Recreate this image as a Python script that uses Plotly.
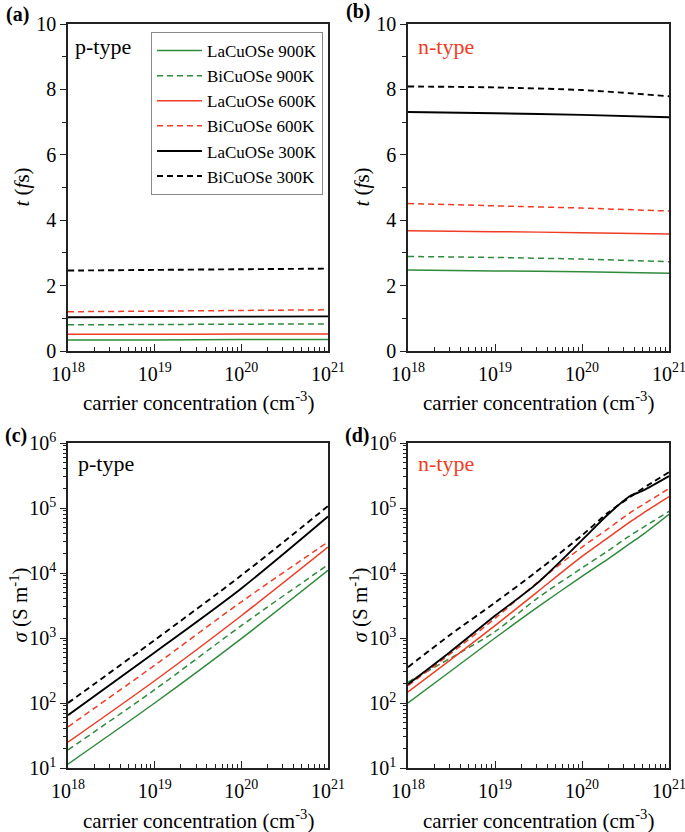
import plotly.graph_objects as go

W, H = 685, 832
FONT = "Liberation Serif, Times New Roman, serif"

# carrier concentration (cm^-3)
conc = [1e18, 1e19, 1e20, 1e21]
conc_d = [1e18, 3e18, 1e19, 3e19, 1e20, 2e20, 3.5e20, 5e20, 1e21]

# (a) p-type relaxation time (fs)
tau_p_la900 = [0.34, 0.34, 0.35, 0.35]
tau_p_bi900 = [0.80, 0.81, 0.82, 0.83]
tau_p_la600 = [0.51, 0.51, 0.52, 0.52]
tau_p_bi600 = [1.20, 1.22, 1.24, 1.26]
tau_p_la300 = [1.03, 1.04, 1.05, 1.06]
tau_p_bi300 = [2.46, 2.48, 2.50, 2.52]

# (b) n-type relaxation time (fs)
tau_n_la900 = [2.48, 2.45, 2.42, 2.38]
tau_n_bi900 = [2.89, 2.86, 2.81, 2.73]
tau_n_la600 = [3.68, 3.65, 3.62, 3.58]
tau_n_bi600 = [4.51, 4.44, 4.37, 4.28]
tau_n_la300 = [7.31, 7.27, 7.22, 7.15]
tau_n_bi300 = [8.09, 8.06, 7.98, 7.79]

# (c) p-type conductivity (S/m)
sig_p_la900 = [11.5, 100, 980, 1.1e4]
sig_p_bi900 = [19, 160, 1550, 1.34e4]
sig_p_la600 = [25, 220, 2200, 2.5e4]
sig_p_bi600 = [43, 380, 3600, 3.0e4]
sig_p_la300 = [65, 600, 5800, 7.4e4]
sig_p_bi300 = [100, 930, 9200, 1.07e5]

# (d) n-type conductivity (S/m)
sig_n_la900 = [100, 300, 1000, 2900, 8900, 1.65e4, 2.8e4, 3.9e4, 8.0e4]
sig_n_bi900 = [210, 480, 1250, 4000, 1.2e4, 2.2e4, 3.7e4, 5.0e4, 8.9e4]
sig_n_la600 = [148, 450, 1550, 5000, 1.8e4, 3.5e4, 6.0e4, 8.3e4, 1.5e5]
sig_n_bi600 = [185, 560, 2000, 7000, 2.5e4, 4.8e4, 8.3e4, 1.12e5, 2.0e5]
sig_n_la300 = [195, 600, 2200, 6800, 3.2e4, 8.0e4, 1.5e5, 1.85e5, 3.1e5]
sig_n_bi300 = [355, 1100, 3500, 1.05e4, 3.8e4, 8.5e4, 1.45e5, 2.0e5, 3.55e5]

names = ["LaCuOSe 900K", "BiCuOSe 900K", "LaCuOSe 600K",
         "BiCuOSe 600K", "LaCuOSe 300K", "BiCuOSe 300K"]
GREEN, RED, BLACK = "#2e8b3c", "#f03c24", "#000000"
colors = [GREEN, GREEN, RED, RED, BLACK, BLACK]
dashes = ["solid", "6px,4px"] * 3
widths = [1.5, 1.5, 1.5, 1.5, 1.9, 1.9]

panels = [
    ("x", "y", conc, [tau_p_la900, tau_p_bi900, tau_p_la600, tau_p_bi600, tau_p_la300, tau_p_bi300]),
    ("x2", "y2", conc, [tau_n_la900, tau_n_bi900, tau_n_la600, tau_n_bi600, tau_n_la300, tau_n_bi300]),
    ("x3", "y3", conc, [sig_p_la900, sig_p_bi900, sig_p_la600, sig_p_bi600, sig_p_la300, sig_p_bi300]),
    ("x4", "y4", conc_d, [sig_n_la900, sig_n_bi900, sig_n_la600, sig_n_bi600, sig_n_la300, sig_n_bi300]),
]

fig = go.Figure()
for p, (xa, ya, xs, series) in enumerate(panels):
    for i, ys in enumerate(series):
        fig.add_trace(go.Scatter(
            x=xs, y=ys, mode="lines", name=names[i], xaxis=xa, yaxis=ya,
            showlegend=(p == 0),
            line=dict(color=colors[i], dash=dashes[i], width=widths[i],
                      shape="spline", smoothing=0.8),
        ))


def px_x(v):
    return v / W


def px_y(v):
    return 1 - v / H


# plot areas in pixels (left, right, top, bottom)
boxes = [(68, 328, 24, 351), (408, 669, 24, 351), (68, 328, 443, 768), (408, 669, 443, 768)]

axis_common = dict(showline=True, linecolor="#222", linewidth=1.5, mirror=True,
                   showgrid=False, zeroline=False, tickcolor="#222", tickwidth=1.2,
                   automargin=False, ticklabeloverflow="allow",
                   tickfont=dict(family=FONT, size=20, color="black"))

dec_x = [1e18, 1e19, 1e20, 1e21]
minor_x = [k * 10.0 ** e for e in (18, 19, 20) for k in range(2, 10)]
dec_y = [1e1, 1e2, 1e3, 1e4, 1e5, 1e6]
minor_y = [k * 10.0 ** e for e in (1, 2, 3, 4, 5) for k in range(2, 10)]

layout = {}
for p, (l, r, t, b) in enumerate(boxes):
    sfx = "" if p == 0 else str(p + 1)
    layout["xaxis" + sfx] = dict(
        axis_common, domain=[px_x(l), px_x(r)], anchor="y" + sfx,
        type="log", range=[18, 21], tickmode="array", tickvals=dec_x,
        ticktext=["10<sup>%d</sup>" % e for e in (18, 19, 20, 21)],
        ticks="inside", ticklen=7, ticklabelstandoff=4,
        minor=dict(tickmode="array", tickvals=minor_x, ticks="inside", ticklen=4,
                   tickcolor="#222", tickwidth=1),
    )
    if p < 2:
        layout["yaxis" + sfx] = dict(
            axis_common, domain=[px_y(b), px_y(t)], anchor="x" + sfx,
            range=[0, 10], tickmode="array", tickvals=[0, 2, 4, 6, 8, 10],
            ticks="outside", ticklen=6,
            minor=dict(tickmode="array", tickvals=[1, 3, 5, 7, 9], ticks="outside",
                       ticklen=4, tickcolor="#222", tickwidth=1),
        )
    else:
        layout["yaxis" + sfx] = dict(
            axis_common, domain=[px_y(b), px_y(t)], anchor="x" + sfx,
            type="log", range=[1, 6], tickmode="array", tickvals=dec_y,
            ticktext=["10<sup>%d</sup>" % e for e in range(1, 7)],
            ticks="outside", ticklen=6,
            minor=dict(tickmode="array", tickvals=minor_y, ticks="outside",
                       ticklen=3, tickcolor="#222", tickwidth=1),
        )

annotations = []


def note(text, x, y, size, color="black", angle=0, xanchor="center"):
    annotations.append(dict(text=text, x=px_x(x), y=px_y(y), xref="paper", yref="paper",
                            showarrow=False, textangle=angle, xanchor=xanchor,
                            yanchor="middle", font=dict(family=FONT, size=size, color=color)))


for lbl, x, y in [("(a)", 4, 14), ("(b)", 344, 12), ("(c)", 3, 435), ("(d)", 343, 435)]:
    note("<b>%s</b>" % lbl, x, y, 20, xanchor="left")

for l, r, t, b in boxes:
    note("carrier concentration (cm<sup>-3</sup>)", (l + r) / 2, b + 51, 21)

note("<i>t</i> (<i>f</i>s)", 22, 187.5, 21, angle=-90)
note("<i>t</i> (<i>f</i>s)", 362, 187.5, 21, angle=-90)
note("<i>σ</i> (S m<sup>-1</sup>)", 19, 605.5, 21, angle=-90)
note("<i>σ</i> (S m<sup>-1</sup>)", 359, 605.5, 21, angle=-90)

note("p-type", 73, 46, 22, xanchor="left")
note("n-type", 416, 46, 22, color=RED, xanchor="left")
note("p-type", 76, 463, 22, xanchor="left")
note("n-type", 416, 463, 22, color=RED, xanchor="left")

fig.update_layout(
    **layout,
    annotations=annotations,
    width=W, height=H,
    margin=dict(l=0, r=0, t=0, b=0, autoexpand=False),
    paper_bgcolor="white", plot_bgcolor="white",
    font=dict(family=FONT, size=19, color="black"),
    legend=dict(x=px_x(323), y=px_y(32), xanchor="right", yanchor="top",
                bordercolor="#888", borderwidth=1, bgcolor="rgba(255,255,255,0)",
                font=dict(family=FONT, size=17), tracegroupgap=0, itemwidth=45),
)

# the page body has a default 8px margin; drop it so the figure fills the window
fig.write_html("out.html", config={"displayModeBar": False},
               post_script="document.body.style.margin='0';document.body.style.overflow='hidden';")
